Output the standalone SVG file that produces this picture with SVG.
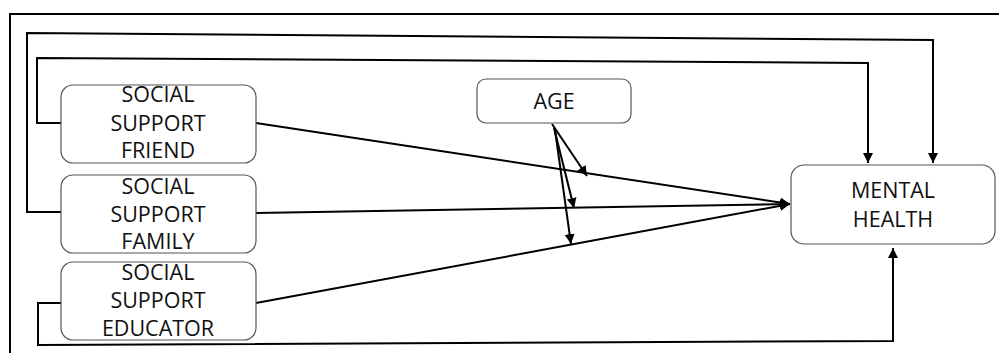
<svg xmlns="http://www.w3.org/2000/svg" width="999" height="353" viewBox="0 0 999 353">
<style>
.box{fill:#fff;stroke:#555;stroke-width:1.2}
.t{font-family:"Open Sans","Liberation Sans",sans-serif;font-size:21.5px;fill:#111;text-anchor:middle}
.c{fill:none;stroke:#000;stroke-width:2}
</style>
<defs>
<marker id="ah" viewBox="0 0 10 10" refX="10" refY="5" markerWidth="5" markerHeight="5" orient="auto" markerUnits="strokeWidth">
<path d="M0,0 L10,5 L0,10 z" fill="#000"/>
</marker>
</defs>
<rect width="999" height="353" fill="#fff"/>
<path class="c" d="M999,14 L10,14 L10,353"/>
<g id="connectors">
<polyline class="c" points="61,212 27,212 27,33 933,40 933,163" marker-end="url(#ah)"/>
<polyline class="c" points="61,123 37,123 37,58 868,63 868,163" marker-end="url(#ah)"/>
<polyline class="c" points="61,303 38,303 38,345 893,341 893,248" marker-end="url(#ah)"/>
<line class="c" x1="256" y1="123" x2="790" y2="204" marker-end="url(#ah)"/>
<line class="c" x1="256" y1="213" x2="790" y2="204" marker-end="url(#ah)"/>
<line class="c" x1="256" y1="303" x2="790" y2="204" marker-end="url(#ah)"/>
<line class="c" x1="552" y1="124" x2="587" y2="176" marker-end="url(#ah)"/>
<line class="c" x1="554" y1="128" x2="574" y2="208" marker-end="url(#ah)"/>
<line class="c" x1="555" y1="130" x2="571" y2="244" marker-end="url(#ah)"/>
</g>
<g id="friend">
<rect class="box" x="61" y="85" width="195" height="78" rx="12"/>
<text class="t" x="158" y="102">SOCIAL</text>
<text class="t" x="158" y="131">SUPPORT</text>
<text class="t" x="158" y="158">FRIEND</text>
</g>
<g id="family">
<rect class="box" x="61" y="175" width="195" height="78" rx="12"/>
<text class="t" x="158" y="194">SOCIAL</text>
<text class="t" x="158" y="222">SUPPORT</text>
<text class="t" x="158" y="249">FAMILY</text>
</g>
<g id="educator">
<rect class="box" x="61" y="262" width="195" height="78" rx="12"/>
<text class="t" x="158" y="280">SOCIAL</text>
<text class="t" x="158" y="308">SUPPORT</text>
<text class="t" x="158" y="336">EDUCATOR</text>
</g>
<g id="age">
<rect class="box" x="477" y="79" width="154" height="44" rx="9"/>
<text class="t" x="554" y="109">AGE</text>
</g>
<g id="mental">
<rect class="box" x="791" y="165" width="204" height="79" rx="13"/>
<text class="t" x="893" y="198">MENTAL</text>
<text class="t" x="893" y="227">HEALTH</text>
</g>
</svg>
